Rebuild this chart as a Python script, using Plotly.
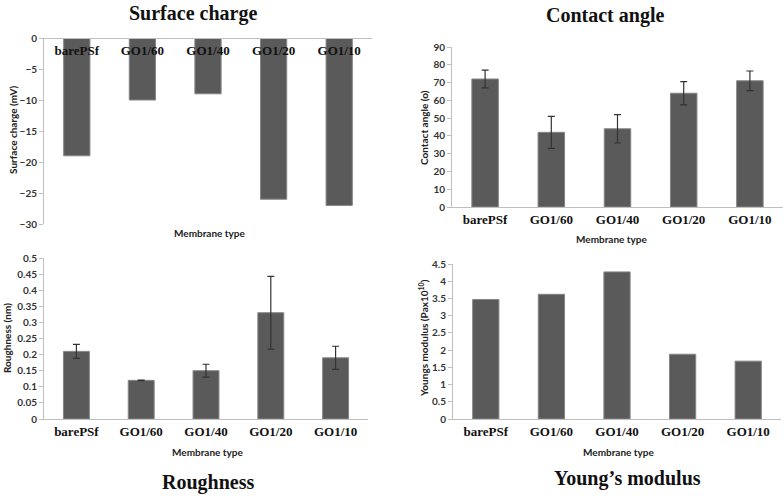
import plotly.graph_objects as go

categories = ["barePSf", "GO1/60", "GO1/40", "GO1/20", "GO1/10"]
surface_charge = [-19, -10, -9, -26, -27]
contact_angle = [72, 42, 44, 64, 71]
contact_angle_err = [5, 9, 8, 6.5, 5.5]
roughness = [0.21, 0.12, 0.15, 0.33, 0.19]
roughness_err = [0.022, 0.001, 0.02, 0.113, 0.036]
youngs = [3.47, 3.62, 4.27, 1.88, 1.68]

W, H = 784, 496
def px(x): return x / W
def py(y): return 1 - y / H

BAR = "#5a5a5a"
EDGE = "#858585"
AX = "#bfbfbf"
TICKFONT = dict(family="Lato", size=10, color="#333333", weight="bold")
CATFONT = dict(family="Liberation Serif", size=13, color="#111111", weight="bold")

fig = go.Figure()

def bar(x, y, xa, ya, err=None):
    kw = {}
    if err is not None:
        kw["error_y"] = dict(type="data", array=err, visible=True, color="#333333", thickness=1.2, width=3.5)
    fig.add_trace(go.Bar(x=x, y=y, xaxis=xa, yaxis=ya, marker=dict(color=BAR, line=dict(color=EDGE, width=1)),
                         width=0.4, showlegend=False, **kw))

bar(categories, surface_charge, "x", "y")
bar(categories, contact_angle, "x2", "y2", contact_angle_err)
bar(categories, roughness, "x3", "y3", roughness_err)
bar(categories, youngs, "x4", "y4")

def xax(x0, x1, anchor, position=None):
    d = dict(domain=[px(x0), px(x1)], showline=True, linecolor=AX, linewidth=1, ticks="",
             tickfont=CATFONT, showgrid=False, zeroline=False, fixedrange=True, automargin=False)
    if position is not None:
        d.update(anchor="free", position=position)
    else:
        d.update(anchor=anchor)
    return d

def yax(y0, y1, rng, dtick, anchor):
    return dict(domain=[py(y1), py(y0)], range=rng, dtick=dtick, showline=True, linecolor=AX, linewidth=1,
                ticks="outside", ticklen=4, tickcolor=AX, tickfont=TICKFONT, showgrid=False,
                zeroline=False, anchor=anchor, automargin=False)

fig.update_layout(
    width=W, height=H, margin=dict(l=0, r=0, t=0, b=0, autoexpand=False),
    paper_bgcolor="white", plot_bgcolor="white",
    xaxis=xax(44, 372, "y", position=py(38)),
    yaxis=yax(38, 224, [-30, 0], 5, "x"),
    xaxis2=xax(452, 783, "y2"),
    yaxis2=yax(47, 207, [0, 90], 10, "x2"),
    xaxis3=xax(44, 368, "y3"),
    yaxis3=yax(258, 419, [0, 0.5], 0.05, "x3"),
    xaxis4=xax(453, 781, "y4"),
    yaxis4=yax(264, 419, [0, 4.5], 0.5, "x4"),
)

TITLEFONT = dict(family="Liberation Serif", size=20, color="#111111", weight="bold")
LABFONT = dict(family="Lato", size=10, color="#222222", weight="bold")

anns = []
def ann(text, x, y, font, angle=0):
    anns.append(dict(text=text, x=px(x), y=py(y), xref="paper", yref="paper", showarrow=False,
                     xanchor="center", yanchor="middle", font=font, textangle=angle))

ann("Surface charge", 193, 13, TITLEFONT)
ann("Contact angle", 605, 15, TITLEFONT)
ann("Roughness", 208, 482, TITLEFONT)
ann("Young’s modulus", 627, 478, TITLEFONT)

ann("Membrane type", 210, 233, LABFONT)
ann("Membrane type", 612, 239, LABFONT)
ann("Membrane type", 208, 452, LABFONT)
ann("Membrane type", 619, 452, LABFONT)

ann("Surface charge (mV)", 13, 130, LABFONT, -90)
ann("Contact angle (o)", 424, 128, LABFONT, -90)
ann("Roughness (nm)", 7, 338, LABFONT, -90)
ann("Youngs modulus (Pax10<sup>10</sup>)", 423, 338, LABFONT, -90)

fig.update_layout(annotations=anns)

fig.write_html("out.html", config={"displayModeBar": False},
               post_script="document.body.style.margin='0';var d=document.getElementById('{plot_id}');d.style.position='fixed';d.style.top='0px';d.style.left='0px';")
